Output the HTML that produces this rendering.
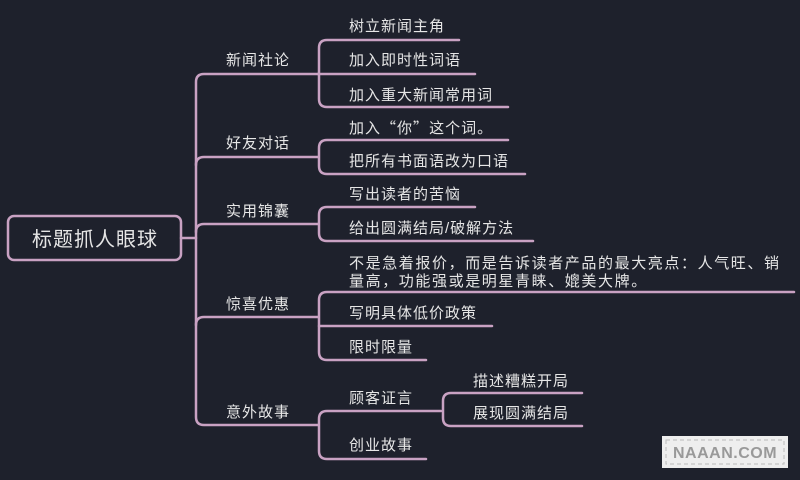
<!DOCTYPE html>
<html><head><meta charset="utf-8">
<style>
html,body{margin:0;padding:0;background:#1e212c;}
svg{display:block}
text{font-family:"Liberation Sans","Noto Sans CJK SC",sans-serif;fill:#e6e6e6;font-size:15px;letter-spacing:1px}
.cjk{font-family:"Noto Sans CJK SC",sans-serif}
</style></head><body>
<svg width="800" height="480" viewBox="0 0 800 480" xmlns="http://www.w3.org/2000/svg">
<rect width="800" height="480" fill="#1e212c"/>
<g fill="none" stroke="#c9a2c3" stroke-width="2.5" stroke-linecap="round">
<rect x="8" y="216" width="173" height="44" rx="6"/>
<path d="M181 238 H196"/>
<!-- main spine -->
<path d="M318 74 H204 Q196 74 196 82 V417 Q196 425 204 425 H318"/>
<path d="M196 165 Q196 157 204 157 H318"/>
<path d="M196 232 Q196 224 204 224 H318"/>
<path d="M196 325 Q196 317 204 317 H318"/>
<!-- 新闻社论 -->
<path d="M459 40 H327 Q319 40 319 48 V99 Q319 107 327 107 H508"/>
<path d="M318 74 H475"/>
<!-- 好友对话 -->
<path d="M508 140 H327 Q319 140 319 148 V166 Q319 174 327 174 H525"/>
<!-- 实用锦囊 -->
<path d="M475 207 H327 Q319 207 319 215 V233 Q319 241 327 241 H533"/>
<!-- 惊喜优惠 -->
<path d="M794 292 H327 Q319 292 319 300 V352 Q319 360 327 360 H426"/>
<path d="M319 326 H492"/>
<!-- 意外故事 -->
<path d="M441 411 H327 Q319 411 319 419 V451 Q319 459 327 459 H426"/>
<path d="M582 393 H451 Q443 393 443 401 V418 Q443 426 451 426 H582"/>
</g>
<text x="95" y="246" text-anchor="middle" style="font-size:20px;letter-spacing:1px">标题抓人眼球</text>
<text x="226" y="65">新闻社论</text>
<text x="226" y="148">好友对话</text>
<text x="226" y="216">实用锦囊</text>
<text x="226" y="309">惊喜优惠</text>
<text x="226" y="417">意外故事</text>
<text x="349" y="31">树立新闻主角</text>
<text x="349" y="65">加入即时性词语</text>
<text x="349" y="100">加入重大新闻常用词</text>
<text x="349" y="133">加入<tspan class="cjk">“</tspan>你<tspan class="cjk">”</tspan>这个词。</text>
<text x="349" y="166">把所有书面语改为口语</text>
<text x="349" y="199">写出读者的苦恼</text>
<text x="349" y="233">给出圆满结局/破解方法</text>
<text x="349" y="268" style="letter-spacing:1.6px">不是急着报价，而是告诉读者产品的最大亮点：人气旺、销</text>
<text x="349" y="286" style="letter-spacing:1.6px">量高，功能强或是明星青睐、媲美大牌。</text>
<text x="349" y="318">写明具体低价政策</text>
<text x="349" y="352">限时限量</text>
<text x="349" y="403">顾客证言</text>
<text x="349" y="450">创业故事</text>
<text x="473" y="386">描述糟糕开局</text>
<text x="473" y="418">展现圆满结局</text>
<rect x="662" y="436" width="126" height="32" fill="#eeeeee"/>
<rect x="666" y="440" width="118" height="24" fill="none" stroke="#bbb" stroke-width="1" stroke-dasharray="4 3"/>
<text x="725" y="458" text-anchor="middle" style="fill:#999;font-size:16px;font-weight:bold;letter-spacing:0.5px">NAAAN.COM</text>
</svg>
</body></html>
